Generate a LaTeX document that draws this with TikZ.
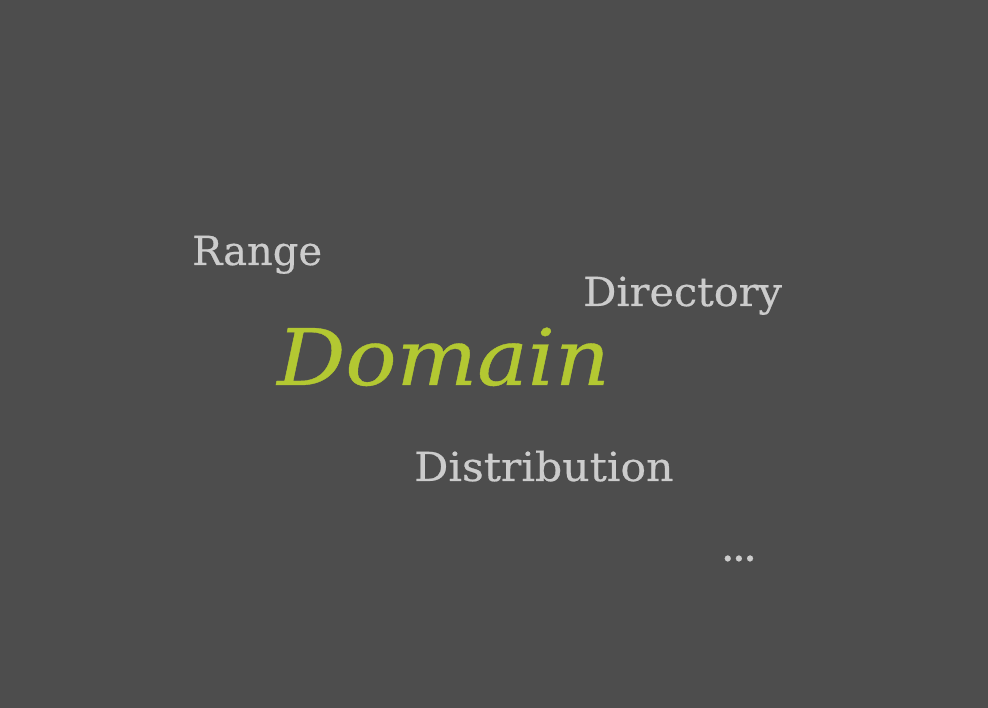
\documentclass[tikz,border=0pt]{standalone}
\usepackage{fontspec}
\setmainfont{DejaVu Serif}[FakeBold=0.5]
\definecolor{bg}{HTML}{4D4D4D}
\definecolor{lime}{HTML}{B3C832}
\definecolor{lightgray}{HTML}{CCCCCC}
\begin{document}
\begin{tikzpicture}[x=1pt,y=1pt,
  word/.style={inner sep=0pt,anchor=base west,text=lightgray,font=\fontsize{40}{48}\selectfont},
  main/.style={inner sep=0pt,anchor=base west,text=lime,font=\fontsize{78}{90}\selectfont\itshape}]
\fill[bg] (0,0) rectangle (988,708);
\useasboundingbox (0,0) rectangle (988,708);
\node[word] (range) at (192,443) {Range};
\node[word,xscale=1.035] (directory) at (583,402) {Directory};
\node[main,xscale=1.09] (domain) at (277,323) {Domain};
\node[word,xscale=1.065] (distribution) at (414,227) {Distribution};
\node[word,font=\bfseries\fontsize{32}{36}\selectfont] (more) at (722,147) {...};
\end{tikzpicture}
\end{document}
